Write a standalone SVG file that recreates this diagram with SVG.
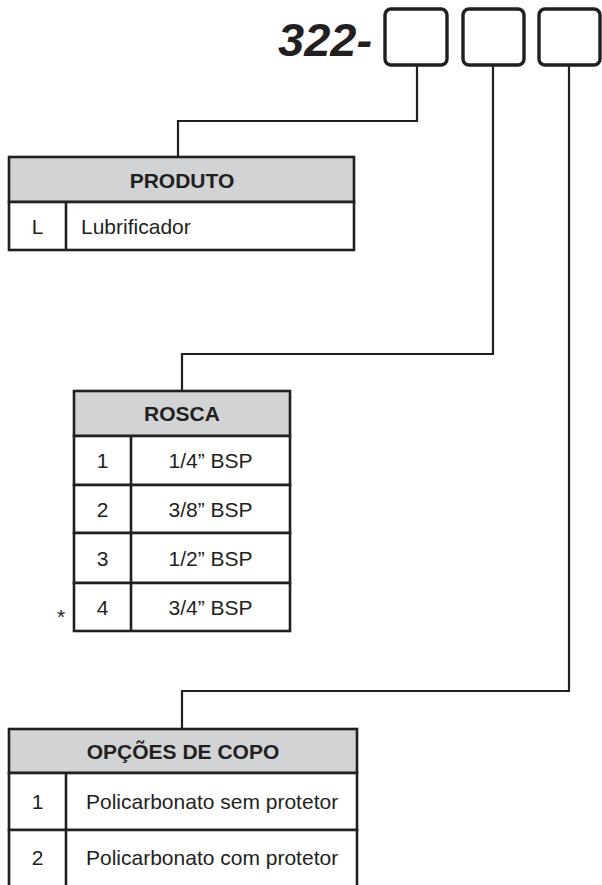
<svg xmlns="http://www.w3.org/2000/svg" width="602" height="885" viewBox="0 0 602 885">
<style>
  .bg{fill:#ffffff}
  .slot{fill:#ffffff;stroke:#231f20;stroke-width:3.4}
  .conn{fill:none;stroke:#231f20;stroke-width:2.2}
  .hdr{fill:#d1d3d4;stroke:#231f20;stroke-width:2.6}
  .cell{fill:#ffffff;stroke:#231f20;stroke-width:2.6}
  .div{stroke:#231f20;stroke-width:2.6}
  .t{font-family:"Liberation Sans",Arial,sans-serif;font-size:21px;fill:#231f20}
  .c{text-anchor:middle}
  .b{font-weight:bold}
  .code{font-family:"Liberation Sans",Arial,sans-serif;font-size:47px;font-weight:bold;font-style:italic;fill:#231f20}
</style>
<rect class="bg" x="0" y="0" width="602" height="885"/>

<g id="code">
  <text class="code" x="278" y="56">322-</text>
  <rect class="slot" x="385" y="9" width="62" height="56" rx="6"/>
  <rect class="slot" x="463" y="9" width="61" height="56" rx="6"/>
  <rect class="slot" x="539" y="9" width="61" height="56" rx="6"/>
</g>

<g id="connectors">
  <polyline class="conn" points="417,65 417,121 178,121 178,157"/>
  <polyline class="conn" points="493,65 493,354 182,354 182,391"/>
  <polyline class="conn" points="569,65 569,691 182,691 182,729"/>
</g>

<g id="produto">
  <rect class="hdr" x="9" y="157" width="345" height="45"/>
  <rect class="cell" x="9" y="202" width="345" height="48"/>
  <line class="div" x1="66" y1="202" x2="66" y2="250"/>
  <text class="t b c" x="182" y="187.5">PRODUTO</text>
  <text class="t c" x="37.5" y="234">L</text>
  <text class="t" x="81" y="234">Lubrificador</text>
</g>

<g id="rosca">
  <rect class="hdr" x="74" y="391" width="216" height="45"/>
  <rect class="cell" x="74" y="436" width="216" height="49"/>
  <rect class="cell" x="74" y="485" width="216" height="48"/>
  <rect class="cell" x="74" y="533" width="216" height="50"/>
  <rect class="cell" x="74" y="583" width="216" height="48"/>
  <line class="div" x1="131" y1="436" x2="131" y2="631"/>
  <text class="t b c" x="182" y="421">ROSCA</text>
  <text class="t c" x="102.5" y="468">1</text>
  <text class="t c" x="210.5" y="468">1/4” BSP</text>
  <text class="t c" x="102.5" y="516.5">2</text>
  <text class="t c" x="210.5" y="516.5">3/8” BSP</text>
  <text class="t c" x="102.5" y="565.5">3</text>
  <text class="t c" x="210.5" y="565.5">1/2” BSP</text>
  <text class="t c" x="102.5" y="614.5">4</text>
  <text class="t c" x="210.5" y="614.5">3/4” BSP</text>
  <text class="t c" x="61" y="624">*</text>
</g>

<g id="opcoes">
  <rect class="hdr" x="9" y="729" width="348" height="44"/>
  <rect class="cell" x="9" y="773" width="348" height="57"/>
  <polyline class="cell" points="9,887 9,830 357,830 357,887"/>
  <line class="div" x1="66" y1="773" x2="66" y2="887"/>
  <text class="t b c" x="183" y="758.5">OPÇÕES DE COPO</text>
  <text class="t c" x="37.5" y="809">1</text>
  <text class="t" x="86" y="809">Policarbonato sem protetor</text>
  <text class="t c" x="37.5" y="865">2</text>
  <text class="t" x="86" y="865">Policarbonato com protetor</text>
</g>
</svg>
